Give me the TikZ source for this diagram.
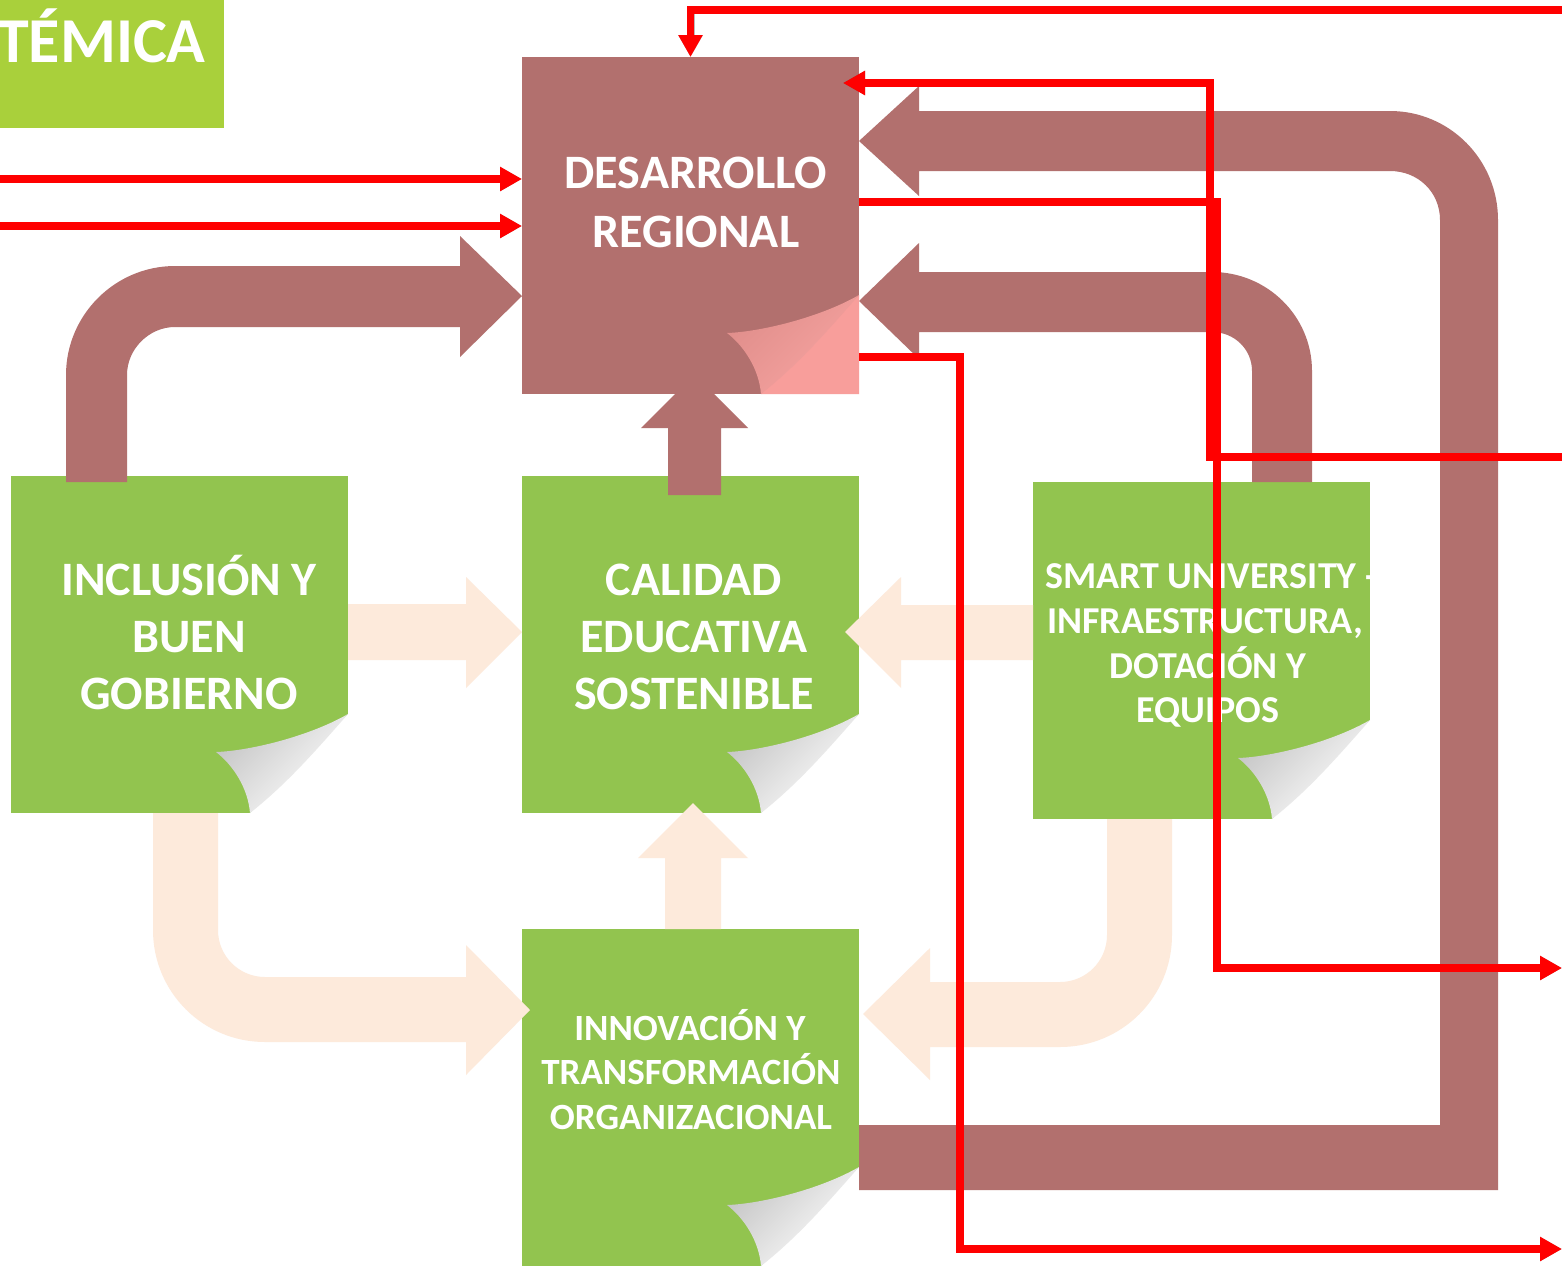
\documentclass[tikz,border=0pt]{standalone}
\usepackage{fontspec}
\setmainfont{Carlito}
\usetikzlibrary{arrows.meta}
\definecolor{brownbox}{HTML}{B2706E}
\definecolor{greenbox}{HTML}{92C44F}
\definecolor{limebox}{HTML}{A9D03B}
\definecolor{peach}{HTML}{FDEADB}
\definecolor{redline}{HTML}{FF0000}
\definecolor{pinkcorner}{HTML}{F89E9B}
\definecolor{pinkflapA}{HTML}{E08E8B}
\definecolor{pinkflapB}{HTML}{F7A4A1}
\newcommand\mycurl[5]{%
  \begin{scope}[shift={(#1,#2)}]
    \fill[#5] (-98,0) -- (0,0) -- (0,-99) -- cycle;
    \shade[top color=#3, bottom color=#4, shading angle=45]
      (0,-99) .. controls (-40,-76) and (-100,-62) .. (-132,-61)
      .. controls (-115,-48) and (-100,-25) .. (-98,0)
      .. controls (-60,-30) and (-30,-65) .. cycle;
  \end{scope}}
\newcommand\myredpaths[1]{%
  \draw[#1] (a0) -- (a0 -| des.west);
  \draw[#1] (b0) -- (b0 -| des.west);
  \draw[#1] (c0) -| (des.north);
  \draw[#1] (e0) -- (e1) -- (e2) -- (e3);
  \draw[#1] (d0) -- (d1) -- (d2) -- (d3);
  \draw[#1] (f0) -- (f1) -- (f2) -- (f3);}
\begin{document}
\begin{tikzpicture}[x=1pt,y=-1pt,
  box/.style={rectangle, minimum width=337pt, minimum height=337pt, inner sep=0pt, outer sep=0pt},
  gbox/.style={box, fill=greenbox},
  bbox/.style={box, fill=brownbox},
  txt/.style={text=white, inner sep=0pt, anchor=base},
  bigtxt/.style={txt, font=\bfseries\fontsize{48}{52}\selectfont},
  midtxt/.style={txt, font=\bfseries\fontsize{38}{42}\selectfont},
  smalltxt/.style={txt, font=\bfseries\fontsize{37}{40}\selectfont},
  titletxt/.style={txt, anchor=base west, font=\bfseries\fontsize{64}{68}\selectfont},
  rl/.style={draw=redline, line width=7.5pt, line join=miter, -{Triangle[length=22pt,width=23pt]}},
  rlsh/.style={draw=black!80, opacity=0.33, line width=8pt, line join=miter, -{Triangle[length=22pt,width=23pt]}},
  brownarrow/.style={fill=brownbox},
  peacharrow/.style={fill=peach}]
\useasboundingbox (0,0) rectangle (1562,1269);
\fill[white] (0,0) rectangle (1562,1269);

% title tab
\fill[limebox] (0,0) rectangle (224,128);
\node[titletxt] (title) at (-3,62) {TÉMICA};

% boxes
\node[bbox] (des) at (690.5,225.5) {};
\node[gbox] (inc) at (179.5,644.5) {};
\node[gbox] (cal) at (690.5,644.5) {};
\node[gbox] (sma) at (1201.5,650.5) {};
\node[gbox] (inn) at (690.5,1097.5) {};

% page curls
\mycurl{859}{394}{pinkflapA}{pinkflapB}{pinkcorner}
\mycurl{348}{813}{gray!45}{white}{white}
\mycurl{859}{813}{gray!45}{white}{white}
\mycurl{1370}{819}{gray!45}{white}{white}
\mycurl{859}{1266}{gray!45}{white}{white}

% brown block arrows
\fill[brownarrow] (66,482) -- (66,375) .. controls (66,315) and (115,266) .. (175,266)
  -- (460,266) -- (460,236) -- (522,296) -- (460,357) -- (460,327) -- (175,327)
  .. controls (149,327) and (127,349) .. (127,375) -- (127,482) -- cycle;
\fill[brownarrow] (668,495) -- (668,428) -- (641,428) -- (675,394) -- (714,394)
  -- (748,428) -- (721,428) -- (721,495) -- cycle;
\fill[brownarrow] (859,1125) -- (1440,1125) -- (1440,220)
  .. controls (1440,192) and (1418,171) .. (1390,171) -- (919,171) -- (919,196)
  -- (859,141) -- (919,86) -- (919,111) -- (1390,111)
  .. controls (1450,111) and (1498,160) .. (1498,220) -- (1498,1190) -- (859,1190) -- cycle;
\fill[brownarrow] (1252,482) -- (1252,371) .. controls (1252,349) and (1234,332) .. (1212,332)
  -- (919,332) -- (919,359) -- (859,301) -- (919,243) -- (919,272) -- (1212,272)
  .. controls (1267,272) and (1312,316) .. (1312,371) -- (1312,482) -- cycle;

% peach block arrows
\fill[peacharrow] (348,604) -- (466,604) -- (466,577) -- (522,632) -- (466,688)
  -- (466,660) -- (348,660) -- cycle;
\fill[peacharrow] (1033,605) -- (901,605) -- (901,577) -- (845,632) -- (901,688)
  -- (901,660) -- (1033,660) -- cycle;
\fill[peacharrow] (665,929) -- (665,858) -- (638,858) -- (693,803) -- (748,858)
  -- (721,858) -- (721,929) -- cycle;
\fill[peacharrow] (153,813) -- (153,930) .. controls (153,992) and (203,1042) .. (265,1042)
  -- (466,1042) -- (466,1075) -- (530,1010) -- (466,945) -- (466,977) -- (265,977)
  .. controls (239,977) and (218,956) .. (218,930) -- (218,813) -- cycle;
\fill[peacharrow] (1107,819) -- (1107,935) .. controls (1107,961) and (1086,982) .. (1060,982)
  -- (930,982) -- (930,948) -- (863,1014) -- (930,1080) -- (930,1047) -- (1060,1047)
  .. controls (1122,1047) and (1172,997) .. (1172,935) -- (1172,819) -- cycle;

% texts
\node[bigtxt] (des1) at (696,188) {DESARROLLO};
\node[bigtxt] (des2) at (696,247) {REGIONAL};
\node[bigtxt] (inc1) at (189,595) {INCLUSIÓN Y};
\node[bigtxt] (inc2) at (189,652) {BUEN};
\node[bigtxt] (inc3) at (189,709) {GOBIERNO};
\node[bigtxt] (cal1) at (694,595) {CALIDAD};
\node[bigtxt] (cal2) at (694,652) {EDUCATIVA};
\node[bigtxt] (cal3) at (694,709) {SOSTENIBLE};
\node[midtxt] (sma1) at (1211,588) {SMART UNIVERSITY -};
\node[midtxt] (sma2) at (1205,633) {INFRAESTRUCTURA,};
\node[midtxt] (sma3) at (1208,678) {DOTACIÓN Y};
\node[midtxt] (sma4) at (1208,722) {EQUIPOS};
\node[smalltxt] (inn1) at (690,1040) {INNOVACIÓN Y};
\node[smalltxt] (inn2) at (691,1084) {TRANSFORMACIÓN};
\node[smalltxt] (inn3) at (691,1129) {ORGANIZACIONAL};

% red connectors
\coordinate (a0) at (0,179);
\coordinate (b0) at (0,226);
\coordinate (c0) at (1570,10);
\coordinate (ey) at (0,202);
\coordinate (e0) at (des.east |- ey);
\coordinate (e1) at (1217,202);
\coordinate (e2) at (1217,968);
\coordinate (e3) at (1562,968);
\coordinate (d0) at (1570,457);
\coordinate (d1) at (1210,457);
\coordinate (d2) at (1210,83);
\coordinate (d3) at (843,83);
\coordinate (fy) at (0,357);
\coordinate (f0) at (des.east |- fy);
\coordinate (f1) at (960,357);
\coordinate (f2) at (960,1249);
\coordinate (f3) at (1562,1249);
\begin{scope}[shift={(5,7)}]
  \myredpaths{rlsh}
\end{scope}
\myredpaths{rl}
\end{tikzpicture}
\end{document}
